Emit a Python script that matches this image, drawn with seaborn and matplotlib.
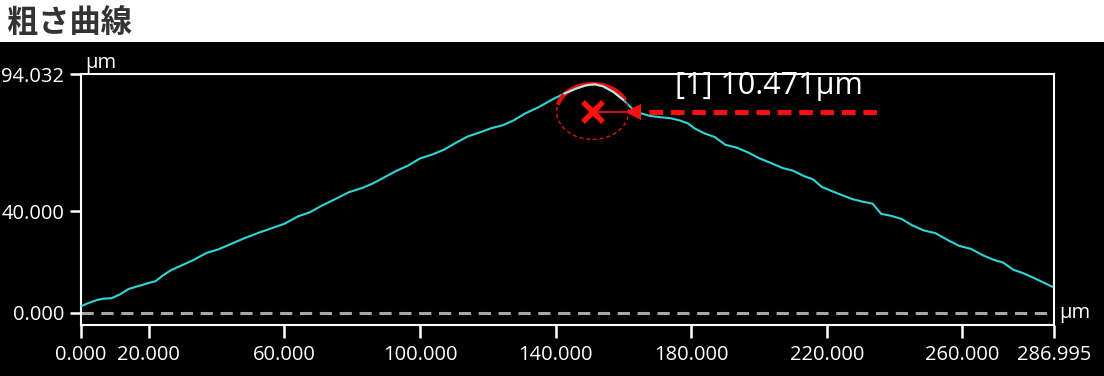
import numpy as np
import pandas as pd
import matplotlib
matplotlib.use("Agg")
import matplotlib.pyplot as plt
from matplotlib.patches import Ellipse, Arc, Rectangle
import seaborn as sns

# Roughness profile (x in μm, height in μm)
pos_um = [0.0, 2.0, 4.5, 6.5, 9.0, 11.5, 14.0, 17.0, 20.0, 22.0, 24.0, 26.5, 29.5,
          33.0, 37.0, 40.5, 44.0, 48.0, 52.5, 56.0, 60.0, 64.0, 67.5, 71.0, 75.0,
          79.0, 83.0, 86.0, 89.5, 93.0, 96.5, 100.0, 103.5, 107.0, 110.5, 114.0,
          117.5, 121.0, 124.5, 127.5, 131.0, 135.0, 139.0, 142.5, 146.0, 149.0,
          151.5, 154.0, 157.0, 160.0, 162.5, 165.0, 168.0, 171.0, 174.0, 176.5,
          179.0, 181.0, 184.0, 187.0, 190.0, 193.5, 197.0, 200.0, 203.5, 207.0,
          210.0, 213.0, 216.0, 218.5, 221.0, 224.0, 227.5, 230.5, 233.5, 236.0,
          239.0, 242.0, 245.0, 248.5, 252.0, 255.5, 259.0, 262.5, 266.0, 269.0,
          272.0, 275.0, 278.0, 281.0, 284.0, 286.5]
height_um = [2.6, 3.8, 5.0, 5.6, 5.8, 7.3, 9.4, 10.6, 11.8, 12.5, 14.6, 16.8, 18.6,
             20.7, 23.6, 25.0, 27.0, 29.3, 31.6, 33.2, 35.1, 38.0, 39.6, 42.2, 44.8,
             47.5, 49.2, 50.9, 53.4, 55.9, 58.0, 60.8, 62.3, 64.2, 66.9, 69.4,
             71.0, 72.7, 73.9, 75.7, 78.5, 81.0, 84.0, 86.3, 88.3, 89.6,
             90.0, 89.2, 87.0, 83.8, 80.5, 78.6, 77.5, 77.0, 76.6, 75.8,
             74.6, 72.6, 70.6, 69.2, 66.2, 65.0, 63.0, 60.9, 59.0, 57.0,
             56.0, 54.0, 52.5, 49.6, 48.2, 46.6, 44.8, 43.8, 43.0, 39.0,
             38.2, 37.0, 34.6, 32.5, 31.4, 28.8, 26.4, 25.2, 22.7, 21.0,
             19.8, 17.0, 15.6, 13.8, 11.9, 10.3]

x_ticks = [0.0, 20.0, 60.0, 100.0, 140.0, 180.0, 220.0, 260.0, 286.995]
y_ticks = [0.0, 40.0, 94.032]
x_max = 286.995
y_max = 94.032

# measurement marker [1]
mark_x = 150.9
mark_y = 79.2
mark_label = "[1] 10.471μm"

df = pd.DataFrame({"x": pos_um, "z": height_um})

sns.set_theme(style="dark", rc={"axes.facecolor": "black", "figure.facecolor": "white"})
plt.rcParams["font.family"] = ["Open Sans", "Noto Sans CJK JP", "DejaVu Sans"]

fig = plt.figure(figsize=(11.04, 3.76), dpi=100)
fig.patches.append(Rectangle((0, 0), 1, 1 - 42 / 376, transform=fig.transFigure,
                             facecolor="black", edgecolor="none", zorder=-5))
fig.text(0.006, 0.938, "粗さ曲線", fontsize=22.5, fontweight="bold", color="#333333",
         family=["Noto Sans CJK JP", "DejaVu Sans"], va="center", ha="left")

ax = fig.add_axes([81 / 1104, 51 / 376, 973 / 1104, 251 / 376])
ax.set_facecolor("black")
ax.set_zorder(2)

# zero reference line
ax.axhline(0, color="#a8a8a8", lw=2.2, ls=(0, (4, 2.5)), zorder=1)

sns.lineplot(data=df, x="x", y="z", ax=ax, color="#2fd6d6", lw=1.5, zorder=3)
peak = df[(df.x >= 141) & (df.x <= 162)]
ax.plot(peak.x, peak.z, color="#b8e6e6", lw=1.5, zorder=5)

ax.set_xlim(0, x_max)
ax.set_ylim(-4.75, y_max)
ax.set_xticks(x_ticks)
ax.set_xticklabels([f"{v:.3f}" for v in x_ticks])
ax.set_yticks(y_ticks)
ax.set_yticklabels([f"{v:.3f}" for v in y_ticks])
ax.set_xlabel("")
ax.set_ylabel("")
ax.grid(False)
for s in ax.spines.values():
    s.set_color("white")
    s.set_linewidth(1.5)
ax.tick_params(axis="both", colors="white", labelcolor="white", labelsize=14.5,
               width=1.8, direction="out", bottom=True, left=True)
ax.tick_params(axis="x", length=9.5, pad=5)
ax.tick_params(axis="y", length=8, pad=4)

# units
ax.text(0.004, 1.005, "μm", transform=ax.transAxes, color="white", fontsize=14.5,
        ha="left", va="bottom")
ax.text(1.005, 0.0, "μm", transform=ax.get_yaxis_transform(), color="white",
        fontsize=14.5, ha="left", va="center")

# measurement annotation
ax.add_patch(Ellipse((mark_x, mark_y), 21.2, 21.8, fill=False, edgecolor="#e01010",
                     lw=1.0, ls=(0, (3, 2)), zorder=4))
ax.add_patch(Arc((mark_x, mark_y), 21.2, 21.8, theta1=25, theta2=165,
                 edgecolor="#e01010", lw=3, zorder=4))
ax.plot([mark_x], [mark_y], marker="x", ms=15, mew=4, color="#ff1010", zorder=6)
ax.plot([mark_x, 162.5], [mark_y, mark_y], color="#ff1010", lw=1.2, zorder=6)
ax.plot([167.5, 235.5], [mark_y, mark_y], color="#ff1010", lw=3.5,
        ls=(0, (2.8, 1.6)), zorder=6)
ax.plot([162.8], [mark_y], marker="<", ms=11, color="#ff1010", mew=0, zorder=6)
ax.text(175.3, 89.5, mark_label, color="white", fontsize=22, ha="left", va="center",
        zorder=7)

fig.savefig("out.png", dpi=100, facecolor=fig.get_facecolor())
